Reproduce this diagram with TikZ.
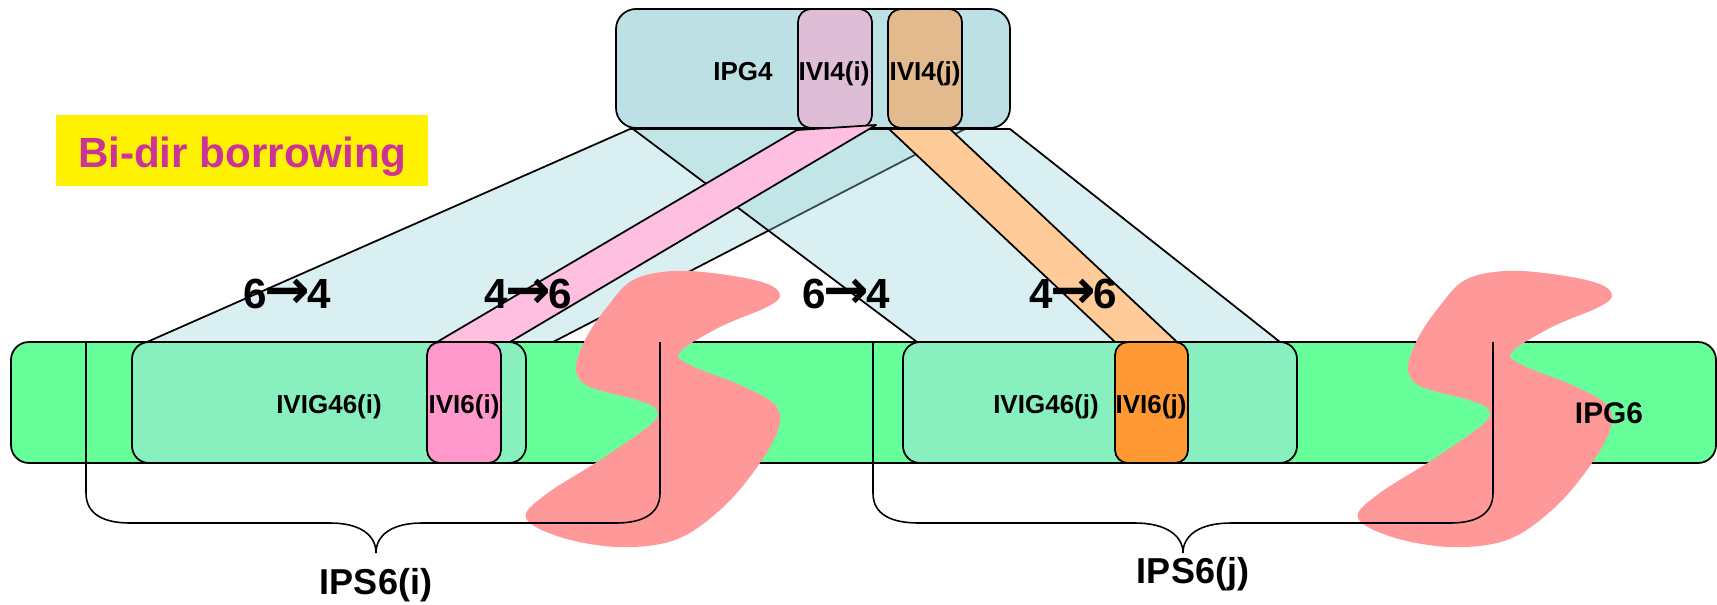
\documentclass[tikz,border=0pt]{standalone}
\usepackage{fontspec}
\setmainfont{Liberation Sans}
\newfontfamily\arrowfont{DejaVu Sans}
\newcommand{\dirarrow}{\kern-1.5pt{\arrowfont\bfseries\fontsize{31}{31}\selectfont →}\kern-1.5pt}
\definecolor{bargreen}{HTML}{66FF99}
\definecolor{grpgreen}{HTML}{88F0BE}
\definecolor{topteal}{HTML}{BCE0E3}
\definecolor{mapcyan}{HTML}{96D2D7}
\definecolor{vipink}{HTML}{FF99CC}
\definecolor{vipinklt}{HTML}{FFBFE0}
\definecolor{vipinktop}{HTML}{DEBDD6}
\definecolor{viorange}{HTML}{FF9933}
\definecolor{vioranglt}{HTML}{FFCC99}
\definecolor{viorangtop}{HTML}{E2BA8E}
\definecolor{cutred}{HTML}{FF9999}
\definecolor{titlemag}{HTML}{CC3399}
\tikzset{
  lbl/.style={font=\bfseries\fontsize{14.8}{16}\selectfont, anchor=base, inner sep=0pt},
  biglbl/.style={font=\bfseries\fontsize{24}{26}\selectfont, anchor=base, inner sep=0pt},
  bracelbl/.style={font=\bfseries\fontsize{20.5}{22}\selectfont, anchor=base, inner sep=0pt},
  edge/.style={line width=1pt, line join=round}
}
\begin{document}
\begin{tikzpicture}[x=0.2mm,y=-0.2mm]
\useasboundingbox (0,0) rectangle (1717,604);

\fill[yellow] (56,115) rectangle (428,186);
\node[biglbl, text=titlemag] (title) at (242,167) {Bi-dir borrowing};

\draw[edge, fill=bargreen, rounded corners=3.6mm] (11,342) rectangle (1716,463);

\draw[edge, fill=topteal, rounded corners=4mm] (616,9) rectangle (1010,128);
\draw[edge, fill=vipinktop, rounded corners=2.6mm] (798,9) rectangle (872,128);
\draw[edge, fill=viorangtop, rounded corners=2.6mm] (888,9) rectangle (962,128);

\draw[edge, fill=mapcyan, fill opacity=0.35] (630,129) -- (965,129) -- (553,342) -- (147,342) -- cycle;
\draw[edge, fill=mapcyan, fill opacity=0.35] (633,129) -- (1010,129) -- (1280,342) -- (917,342) -- cycle;

\draw[edge, fill=grpgreen, rounded corners=3.4mm] (132,342) rectangle (526,463);
\draw[edge, fill=grpgreen, rounded corners=3.4mm] (903,342) rectangle (1297,463);
\draw[edge, fill=vipink, rounded corners=2.6mm] (427,342) rectangle (501,463);
\draw[edge, fill=viorange, rounded corners=2.6mm] (1115,342) rectangle (1188,463);

\draw[edge, fill=vipinklt] (797,130) -- (876,125) -- (510,342) -- (437,342) -- cycle;
\draw[edge, fill=vioranglt] (889,129) -- (950,129) -- (1177,342) -- (1115,342) -- cycle;

\foreach \dx in {0,832}
  \fill[cutred, shift={(\dx,0)}] plot[smooth cycle, tension=0.6] coordinates {
    (633,280) (673,271) (720,274) (765,283) (780,295) (767,307) (720,327)
    (680,352) (690,365) (740,385) (775,405) (778,430) (755,470) (720,510)
    (675,540) (618,547) (560,537) (526,518) (545,495) (600,460) (650,425)
    (657,410) (637,400) (590,387) (576,370) (585,340) (607,307)};

\draw[line width=0.9pt] (86,342) -- (86,493) .. controls (86,515) and (105,523) .. (130,523)
  -- (330,523) .. controls (360,523) and (376,535) .. (376,553)
  .. controls (376,535) and (392,523) .. (422,523) -- (616,523)
  .. controls (641,523) and (660,515) .. (660,493) -- (660,342);
\draw[line width=0.9pt] (873,342) -- (873,493) .. controls (873,515) and (892,523) .. (919,523)
  -- (1135,523) .. controls (1165,523) and (1183,535) .. (1183,553)
  .. controls (1183,535) and (1200,523) .. (1231,523) -- (1450,523)
  .. controls (1475,523) and (1493,515) .. (1493,493) -- (1493,342);

\node[lbl] (ipg4) at (743,80) {IPG4};
\node[lbl] (vi4i) at (834,80) {IVI4(i)};
\node[lbl] (vi4j) at (925,80) {IVI4(j)};

\node[biglbl] (dirai) at (287,308) {6\dirarrow4};
\node[biglbl] (dirbi) at (528,308) {4\dirarrow6};
\node[biglbl] (diraj) at (846,308) {6\dirarrow4};
\node[biglbl] (dirbj) at (1073,308) {4\dirarrow6};

\node[lbl] (grpi) at (329,413) {IVIG46(i)};
\node[lbl] (vi6i) at (464,413) {IVI6(i)};
\node[lbl] (grpj) at (1046,413) {IVIG46(j)};
\node[lbl] (vi6j) at (1151,413) {IVI6(j)};
\node[lbl, font=\bfseries\fontsize{17}{19}\selectfont] (ipg6) at (1609,423) {IPG6};

\node[bracelbl] (ipsi) at (376,594) {IPS6(i)};
\node[bracelbl] (ipsj) at (1193,583) {IPS6(j)};
\end{tikzpicture}
\end{document}
